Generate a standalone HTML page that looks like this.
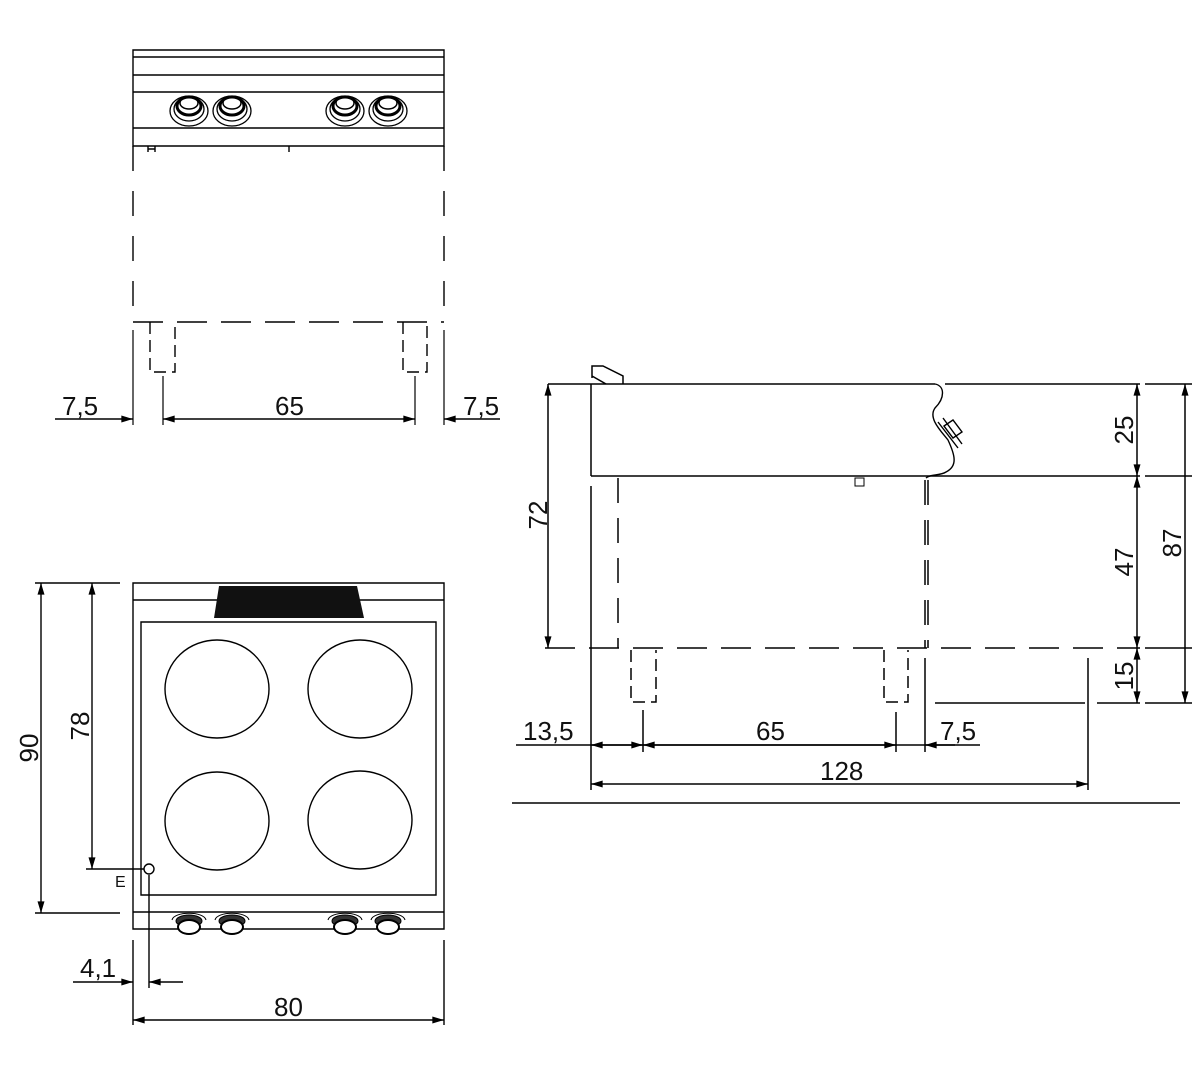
<!DOCTYPE html>
<html><head><meta charset="utf-8"><style>html,body{margin:0;padding:0;background:#fff}svg{display:block}text{font-family:"Liberation Sans",sans-serif;font-size:26px;fill:#111}</style></head><body>
<svg width="1200" height="1080" viewBox="0 0 1200 1080" xmlns="http://www.w3.org/2000/svg">
<defs>
<marker id="a" viewBox="0 0 10 6" refX="10" refY="3" markerWidth="16" markerHeight="7" markerUnits="userSpaceOnUse" orient="auto-start-reverse"><path d="M0,0L10,3L0,6z" fill="#000"/></marker>
<g id="knob" fill="none" stroke="#000"><ellipse cx="0" cy="3" rx="19" ry="15" stroke-width="1.3"/><ellipse cx="0" cy="1" rx="15" ry="12" stroke-width="1.3"/><ellipse cx="0" cy="-2" rx="12" ry="9" stroke-width="3"/><ellipse cx="0" cy="-5" rx="9" ry="6" stroke-width="1.5"/></g>
<g id="kb"><path d="M-17,1 C-15,-8 15,-8 17,1" fill="none" stroke="#000" stroke-width="1"/><ellipse cx="0" cy="2" rx="13" ry="6" fill="#333" stroke="#000"/><ellipse cx="0" cy="8" rx="11" ry="7" fill="#fff" stroke="#000" stroke-width="2"/></g>
</defs>
<g stroke="#000" stroke-width="1.4" fill="none">
<!-- FRONT VIEW -->
<path d="M133,50H444V146H133Z M133,57H444 M133,75H444 M133,92H444 M133,128H444"/>
<path d="M148,146v6 M155,146v6 M148,149h7 M289,146v6"/>
<path d="M133,146V322 M444,146V322" stroke-dasharray="25,20"/>
<path d="M133,322H444" stroke-dasharray="30,14"/>
<path d="M150,322v50h25v-50 M403,322v50h24v-50" stroke-dasharray="12,6"/>
<path d="M163,376V425 M415,376V425 M133,330V425 M444,330V425" stroke-width="1.2"/>
<path d="M55,419H133" marker-end="url(#a)"/><path d="M163,419H415" marker-start="url(#a)" marker-end="url(#a)"/><path d="M500,419H444" marker-end="url(#a)"/>
</g>
<use href="#knob" x="189" y="108"/><use href="#knob" x="232" y="108"/><use href="#knob" x="345" y="108"/><use href="#knob" x="388" y="108"/>
<text x="62" y="415">7,5</text><text x="275" y="415">65</text><text x="463" y="415">7,5</text>

<!-- SIDE VIEW -->
<g stroke="#000" stroke-width="1.5" fill="none">
<path d="M548,384H935 M945,384H1140 M1145,384H1192"/>
<path d="M591,384V476 M591,476H1140 M1145,476H1192" />
<path d="M592,378V366H603L623,376V384 M592,376L606,384" stroke-width="1.5"/>
<path d="M935,384C945,386 945,398 935,408C928,418 940,430 948,440C955,455 958,466 946,472C940,476 930,474 926,478" stroke-width="1.4"/>
<path d="M938,422L958,448M943,418L962,444 M944,426L953,420L962,432L953,438Z" stroke-width="1.4"/>
<path d="M855,478h9v8h-9z" stroke-width="1"/>
<path d="M618,478V648 M925,480V648 M928,480V648" stroke-dasharray="25,15"/>
<path d="M545,648H1140" stroke-dasharray="30,14"/>
<path d="M1145,648H1192"/>
<path d="M631,650v52h25v-52 M884,650v52h24v-52" stroke-dasharray="12,6"/>
<path d="M591,486V790 M925,658V752 M643,710V752 M896,712V752 M1088,658V790"/>
<path d="M935,703H1085 M1097,703H1140 M1145,703H1192"/>
<path d="M512,803H1180"/>
<path d="M548,384V648" marker-start="url(#a)" marker-end="url(#a)"/>
<path d="M1137,384V476" marker-start="url(#a)" marker-end="url(#a)"/>
<path d="M1137,476V648" marker-start="url(#a)" marker-end="url(#a)"/>
<path d="M1137,648V703" marker-start="url(#a)" marker-end="url(#a)"/>
<path d="M1185,384V703" marker-start="url(#a)" marker-end="url(#a)"/>
<path d="M516,745H980"/>
<path d="M591,745H643" marker-start="url(#a)" marker-end="url(#a)"/>
<path d="M643,745H896" marker-start="url(#a)" marker-end="url(#a)"/>
<path d="M955,745H925" marker-end="url(#a)"/>
<path d="M591,784H1088" marker-start="url(#a)" marker-end="url(#a)"/>
</g>
<text transform="translate(547,515) rotate(-90)" text-anchor="middle">72</text>
<text transform="translate(1133,430) rotate(-90)" text-anchor="middle">25</text>
<text transform="translate(1133,562) rotate(-90)" text-anchor="middle">47</text>
<text transform="translate(1133,676) rotate(-90)" text-anchor="middle">15</text>
<text transform="translate(1181,543) rotate(-90)" text-anchor="middle">87</text>
<text x="523" y="740">13,5</text><text x="756" y="740">65</text><text x="940" y="740">7,5</text><text x="820" y="780">128</text>

<!-- TOP VIEW -->
<g stroke="#000" stroke-width="1.4" fill="none">
<path d="M133,583H444V929H133Z M133,600H444 M133,912H444"/>
<path d="M141,622H436V895H141Z"/>
<ellipse cx="217" cy="689" rx="52" ry="49"/><ellipse cx="360" cy="689" rx="52" ry="49"/>
<ellipse cx="217" cy="821" rx="52" ry="49"/><ellipse cx="360" cy="820" rx="52" ry="49"/>
<circle cx="149" cy="869" r="5"/>
<path d="M149,875V988 M86,869H144 M35,583H120 M35,913H120 M133,940V1025 M444,940V1025"/>
<path d="M41,583V913" marker-start="url(#a)" marker-end="url(#a)"/>
<path d="M92,583V869" marker-start="url(#a)" marker-end="url(#a)"/>
<path d="M73,982H133" marker-end="url(#a)"/><path d="M183,982H149" marker-end="url(#a)"/>
<path d="M133,1020H444" marker-start="url(#a)" marker-end="url(#a)"/>
</g>
<path d="M219,586H357L364,618H214Z" fill="#111"/>
<use href="#kb" x="189" y="919"/><use href="#kb" x="232" y="919"/><use href="#kb" x="345" y="919"/><use href="#kb" x="388" y="919"/>
<text transform="translate(38,748) rotate(-90)" text-anchor="middle">90</text>
<text transform="translate(89,726) rotate(-90)" text-anchor="middle">78</text>
<text x="115" y="887" style="font-size:16px">E</text>
<text x="80" y="977">4,1</text>
<text x="274" y="1016">80</text>
</svg>
</body></html>
